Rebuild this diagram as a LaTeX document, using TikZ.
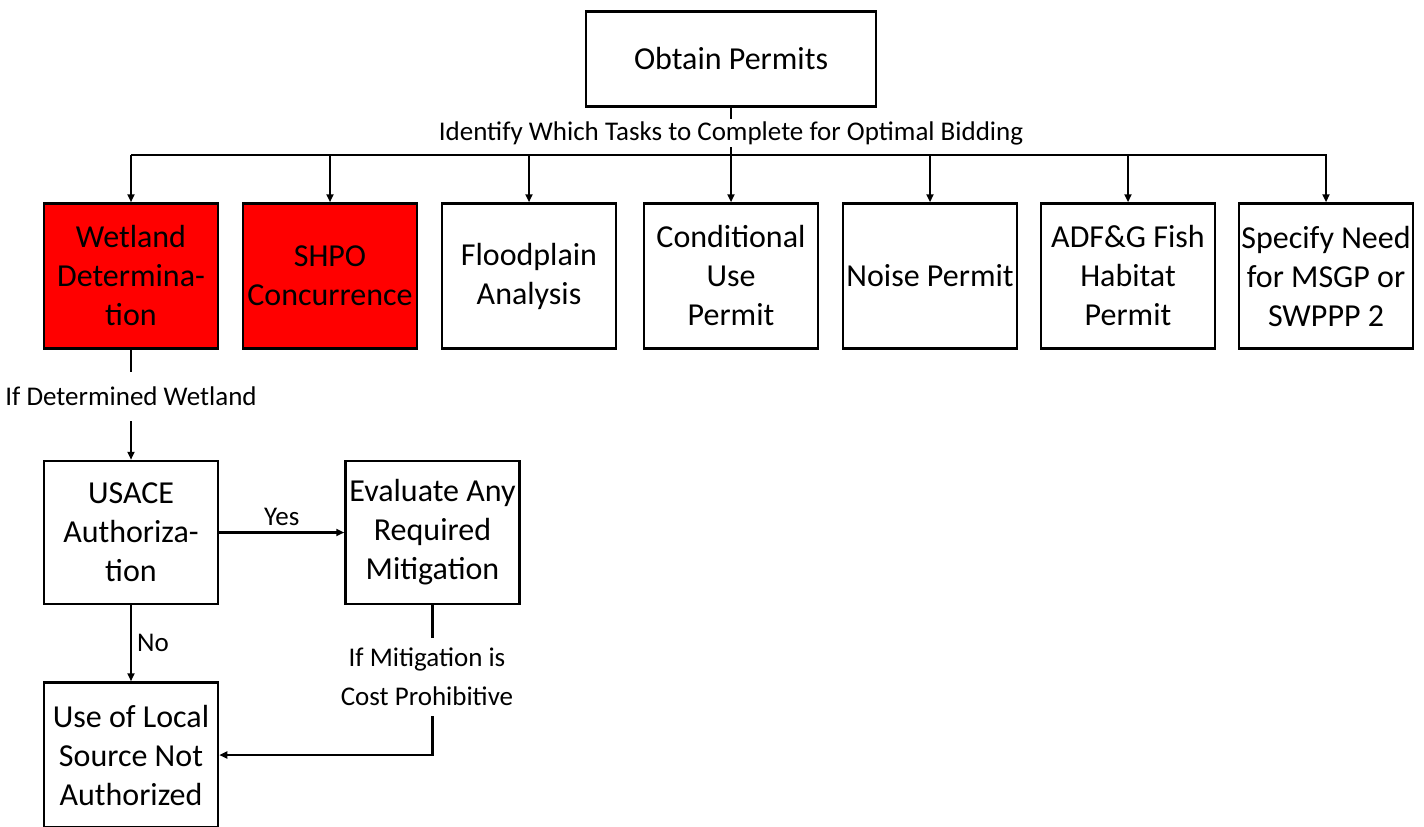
\documentclass[tikz,border=0pt]{standalone}
\usepackage{fontspec}
\setmainfont{Carlito}
\usetikzlibrary{arrows.meta}
\begin{document}
\begin{tikzpicture}[x=1pt,y=-1pt,
  line width=2.3pt,
  box/.style={draw=black,fill=white,line width=2.5pt,minimum width=174pt,minimum height=145pt,
    align=center,inner sep=0pt,font=\fontsize{32}{39}\selectfont},
  redbox/.style={box,fill=red},
  lbl/.style={fill=white,inner sep=0pt,align=center,font=\fontsize{27}{39}\selectfont},
  arr/.style={-{Triangle[length=8pt,width=7pt]}}]
\useasboundingbox (0,0) rectangle (1424,827);

% top box and its caption
\node[box,minimum width=290pt,minimum height=95pt] (obtain) at (731,59) {Obtain Permits};
\node[lbl,minimum height=26pt] (idl) at (731,133) {Identify Which Tasks to Complete for Optimal Bidding};

% row of tasks
\node[redbox] (wet)   at (131,276) {Wetland\\Determina-\\tion};
\node[redbox] (shpo)  at (330,276) {SHPO\\Concurrence};
\node[box]    (flood) at (529,276) {Floodplain\\Analysis};
\node[box]    (cond)  at (731,276) {Conditional\\Use\\Permit};
\node[box]    (noise) at (930,276) {Noise Permit};
\node[box]    (adfg)  at (1128,276) {ADF\&G Fish\\Habitat\\Permit};
\node[box]    (swp)   at (1326,276) {Specify Need\\for MSGP or\\SWPPP 2};

% bus
\coordinate (busL) at (131,155);
\coordinate (busR) at (1327,155);
\draw (obtain.south) -- (idl.north);
\draw (busL) -- (busR);
\draw[arr] (idl.south) -- (cond.north);
\foreach \n in {wet,shpo,flood,noise,adfg,swp}
  \draw[arr] (\n.north |- busL) -- (\n.north);

% wetland branch
\node[lbl,minimum height=47pt] (detl) at (131,396.5) {If Determined Wetland};
\node[box,minimum height=143pt] (usace) at (131,532.5) {USACE\\Authoriza-\\tion};
\node[box,minimum height=143pt] (eval)  at (432.5,532.5) {Evaluate Any\\Required\\Mitigation};
\node[box,minimum height=145pt] (use)   at (131,755) {Use of Local\\Source Not\\Authorized};

\draw (wet.south) -- (detl.north);
\draw[arr] (detl.south) -- (usace.north);

\draw[arr] (usace.east) -- node[lbl,fill=none,above=6pt] (yes) {Yes} (eval.west);
\draw[arr] (usace.south) -- node[lbl,fill=none,right=5pt] (no) {No} (use.north);

\node[lbl,minimum height=76pt] (mit) at (427,677) {If Mitigation is\\Cost Prohibitive};
\draw (eval.south) -- (eval.south |- mit.north);
\draw[arr] (eval.south |- mit.south) |- (use.east);
\end{tikzpicture}
\end{document}
